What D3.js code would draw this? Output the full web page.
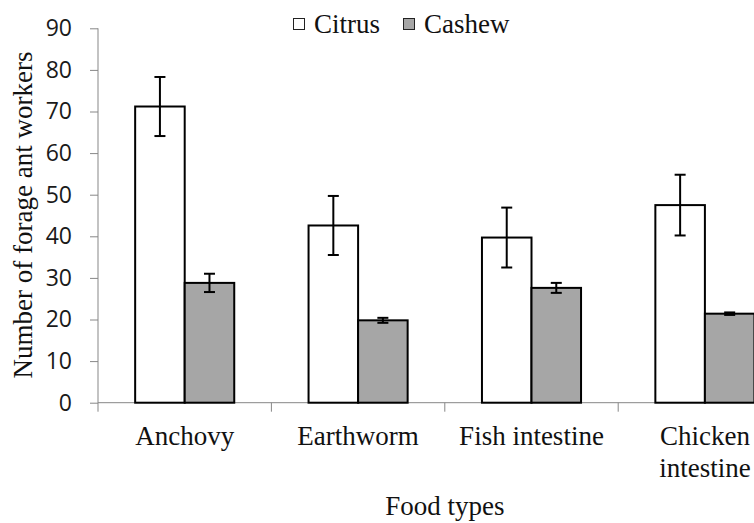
<!DOCTYPE html>
<html>
<head>
<meta charset="utf-8">
<script src="https://cdn.jsdelivr.net/npm/d3@7"></script>
<style>
  html, body { margin: 0; padding: 0; background: #fff; overflow: hidden; }
  svg { display: block; }
</style>
</head>
<body>
<svg id="chart" width="754" height="523"></svg>
<script>
const categories = ["Anchovy", "Earthworm", "Fish intestine", "Chicken intestine"];
const categoryLines = [["Anchovy"], ["Earthworm"], ["Fish intestine"], ["Chicken", "intestine"]];
const series = ["Citrus", "Cashew"];
const citrusValues = [71.2, 42.6, 39.7, 47.5];
const citrusErrors = [7.1, 7.1, 7.2, 7.3];
const cashewValues = [28.8, 19.8, 27.6, 21.4];
const cashewErrors = [2.2, 0.6, 1.2, 0.3];
const yTicks = [0, 10, 20, 30, 40, 50, 60, 70, 80, 90];
const seriesFill = { Citrus: "#ffffff", Cashew: "#a6a6a6" };

const svg = d3.select("#chart");
const serif = "'Liberation Serif', 'Times New Roman', serif";
const sans = "'Open Sans', 'Noto Sans', sans-serif";
const axisColor = "#878787";

const x0 = d3.scaleBand().domain(categories).range([98, 791.6]).paddingInner(0).paddingOuter(0);
const x1 = d3.scaleBand().domain(series).range([0, x0.bandwidth()]).paddingInner(0).paddingOuter(0.75);
const y = d3.scaleLinear().domain([0, 90]).range([402.7, 28.3]);

const rows = [];
categories.forEach((c, i) => {
  rows.push({ cat: c, s: "Citrus", v: citrusValues[i], e: citrusErrors[i] });
  rows.push({ cat: c, s: "Cashew", v: cashewValues[i], e: cashewErrors[i] });
});

// Y axis
const yAxis = svg.append("g")
  .attr("transform", `translate(${x0.range()[0]},0)`)
  .call(d3.axisLeft(y).tickValues(yTicks).tickSize(8).tickPadding(18).tickSizeOuter(0));
yAxis.select(".domain").attr("stroke", axisColor).attr("d", `M0,${y(90)}V${y(0) + 9}`);
yAxis.selectAll(".tick line").attr("stroke", axisColor);
yAxis.selectAll(".tick text").attr("font-family", sans).attr("font-size", 23).attr("fill", "#1a1a1a");

// X axis line + boundary ticks
svg.append("line")
  .attr("x1", x0.range()[0]).attr("x2", x0.range()[1])
  .attr("y1", y(0)).attr("y2", y(0))
  .attr("stroke", axisColor);
svg.append("g").selectAll("line")
  .data(categories.slice(1).concat([]))
  .join("line")
  .attr("x1", d => x0(d)).attr("x2", d => x0(d))
  .attr("y1", y(0)).attr("y2", y(0) + 9)
  .attr("stroke", axisColor);

// Bars
const bars = svg.append("g");
bars.selectAll("rect")
  .data(rows)
  .join("rect")
  .attr("x", d => x0(d.cat) + x1(d.s))
  .attr("y", d => y(d.v))
  .attr("width", x1.bandwidth())
  .attr("height", d => y(0) - y(d.v))
  .attr("fill", d => seriesFill[d.s])
  .attr("stroke", "#000")
  .attr("stroke-width", 2);

// Error bars
const eb = svg.append("g").attr("stroke", "#000").attr("stroke-width", 2);
rows.forEach(d => {
  const cx = x0(d.cat) + x1(d.s) + x1.bandwidth() / 2;
  eb.append("line").attr("x1", cx).attr("x2", cx).attr("y1", y(d.v + d.e)).attr("y2", y(d.v - d.e));
  eb.append("line").attr("x1", cx - 5.5).attr("x2", cx + 5.5).attr("y1", y(d.v + d.e)).attr("y2", y(d.v + d.e));
  eb.append("line").attr("x1", cx - 5.5).attr("x2", cx + 5.5).attr("y1", y(d.v - d.e)).attr("y2", y(d.v - d.e));
});

// Category labels
categories.forEach((c, i) => {
  const t = svg.append("text")
    .attr("x", x0(c) + x0.bandwidth() / 2)
    .attr("y", 445)
    .attr("text-anchor", "middle")
    .attr("font-family", serif).attr("font-size", 27).attr("fill", "#111");
  categoryLines[i].forEach((ln, j) => {
    t.append("tspan").attr("x", x0(c) + x0.bandwidth() / 2).attr("dy", j === 0 ? 0 : 32).text(ln);
  });
});

// Axis titles
svg.append("text")
  .attr("x", (x0.range()[0] + x0.range()[1]) / 2).attr("y", 515)
  .attr("text-anchor", "middle")
  .attr("font-family", serif).attr("font-size", 27).attr("fill", "#111")
  .text("Food types");
svg.append("text")
  .attr("transform", "translate(32,215) rotate(-90)")
  .attr("text-anchor", "middle")
  .attr("font-family", serif).attr("font-size", 27).attr("fill", "#111")
  .text("Number of forage ant workers");

// Legend
const legendX = [293, 403];
series.forEach((s, i) => {
  svg.append("rect")
    .attr("x", legendX[i] + 0.5).attr("y", 18.5)
    .attr("width", 11).attr("height", 11)
    .attr("fill", seriesFill[s]).attr("stroke", "#222").attr("stroke-width", 1);
  svg.append("text")
    .attr("x", legendX[i] + 21).attr("y", 33)
    .attr("font-family", serif).attr("font-size", 27).attr("fill", "#111")
    .text(s);
});
</script>
</body>
</html>
